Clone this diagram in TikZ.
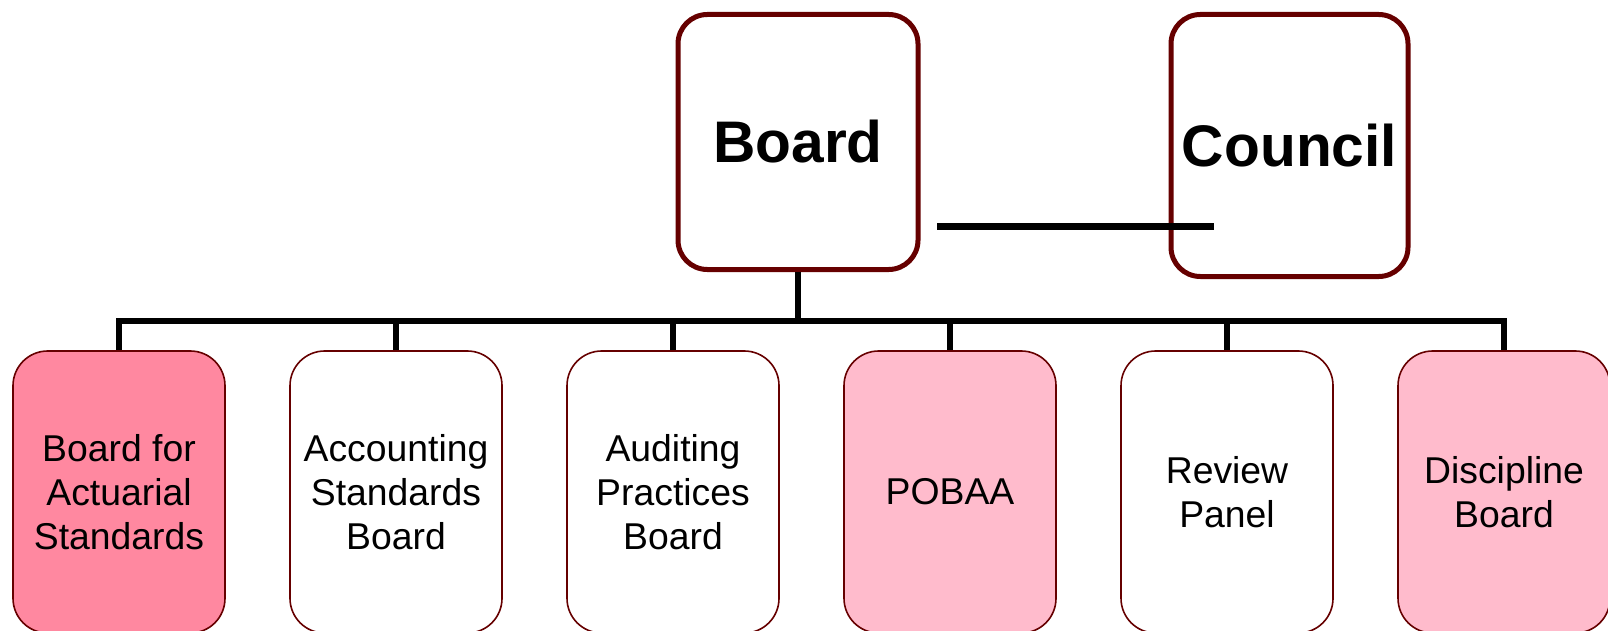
\documentclass[tikz,border=0pt]{standalone}
\usepackage{fontspec}
\setmainfont{Liberation Sans}
\definecolor{boxedge}{RGB}{102,0,0}
\definecolor{actpink}{RGB}{255,136,160}
\definecolor{lightpink}{RGB}{255,187,204}

\begin{document}
\begin{tikzpicture}[x=0.75pt,y=0.75pt,yscale=-1,xscale=1,
  topbox/.style={draw=boxedge, line width=3.75pt, rounded corners=22pt, fill=white,
    inner sep=0pt, font=\fontsize{44}{52}\selectfont\bfseries},
  unitbox/.style={draw=boxedge, line width=1.2pt, rounded corners=26pt,
    minimum width=159pt, minimum height=211.5pt, inner sep=0pt, align=center,
    font=\fontsize{28}{33}\selectfont},
  link/.style={line width=4.5pt}]

\useasboundingbox (0,0) rectangle (1608,631);

%Top boxes
\node [topbox, minimum width=180pt, minimum height=191.25pt] (board) at (798,142) {Board};
\node [topbox, minimum width=177.75pt, minimum height=196.5pt] (council) at (1289.5,145.5) {Council};

%Lower boxes
\node [unitbox, fill=actpink] (bas) at (119,492) {Board for\\Actuarial\\Standards};
\node [unitbox, fill=white] (asb) at (396,492) {Accounting\\Standards\\Board};
\node [unitbox, fill=white] (apb) at (673,492) {Auditing\\Practices\\Board};
\node [unitbox, fill=lightpink] (pobaa) at (950,492) {POBAA};
\node [unitbox, fill=white] (review) at (1227,492) {Review\\Panel};
\node [unitbox, fill=lightpink] (discipline) at (1504,492) {Discipline\\Board};

%Board to Council
\coordinate (linkstart) at (937,226);
\coordinate (linkend) at (1214,226);
\draw [line width=5.25pt] (linkstart) -- (linkend);

%Bus
\coordinate (bus) at (798,321);
\draw [link] (board.south) -- (bus);
\draw [link] (bas.north) -- (bas.north |- bus) -- (discipline.north |- bus) -- (discipline.north);
\foreach \n in {asb,apb,pobaa,review}
  \draw [link] (\n.north |- bus) -- (\n.north);
\end{tikzpicture}
\end{document}
